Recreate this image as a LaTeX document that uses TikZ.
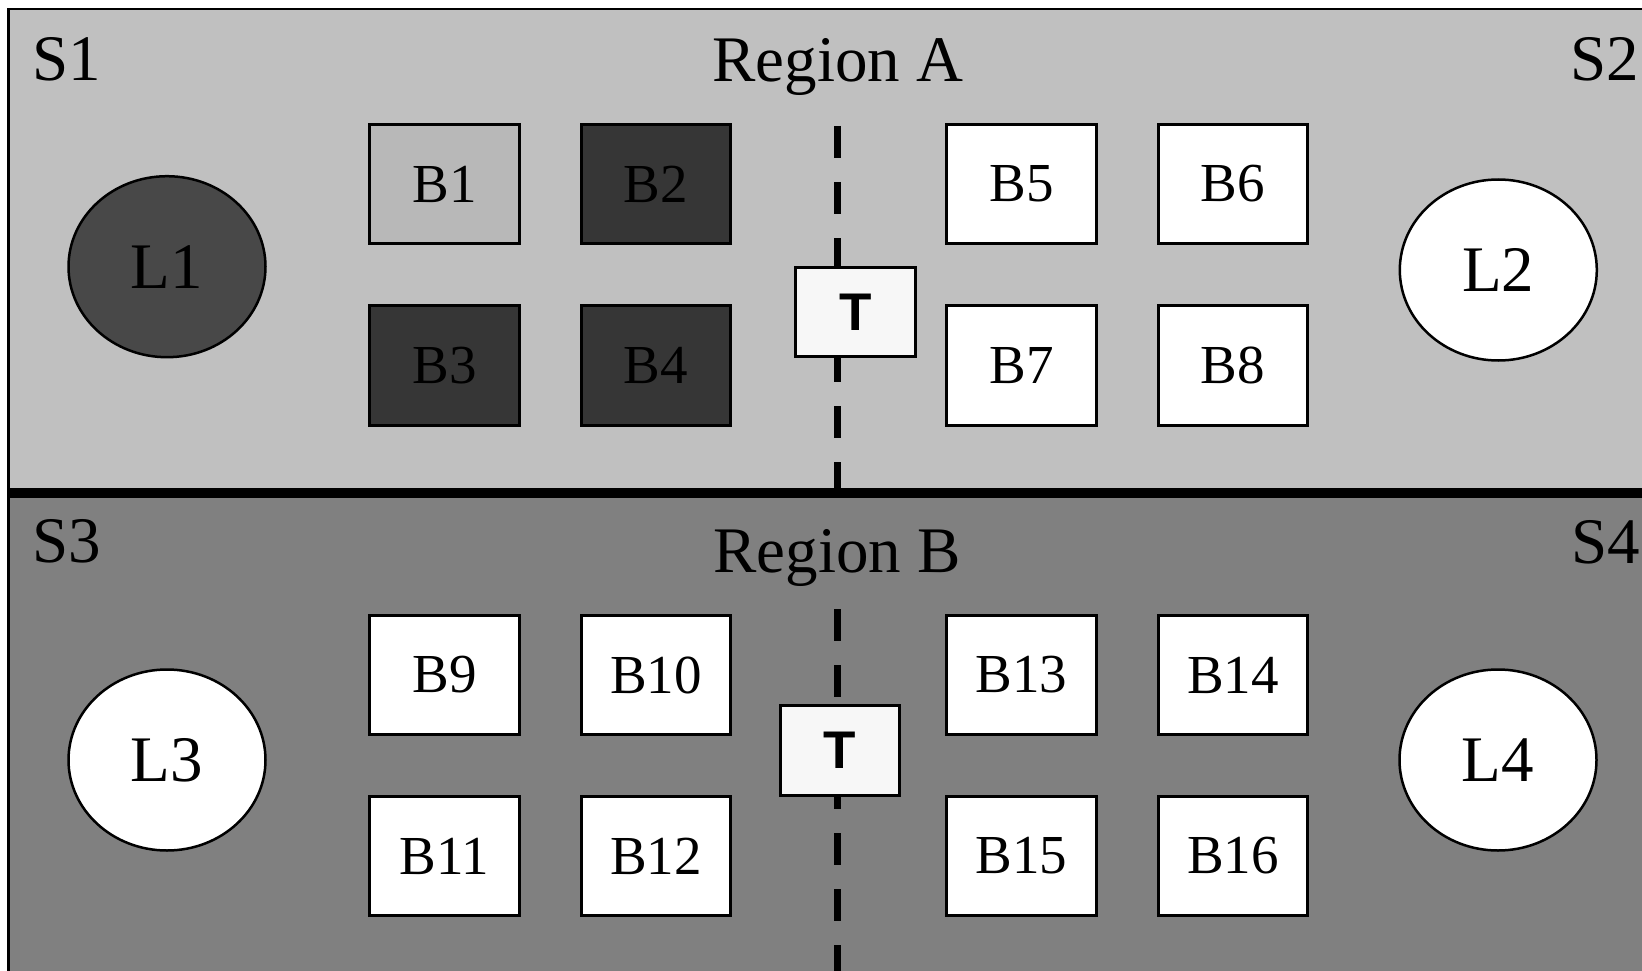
\documentclass[tikz,border=0pt]{standalone}
\usepackage{fontspec}
\setmainfont{Liberation Serif}
\newfontfamily\tsans{Liberation Sans}
\usetikzlibrary{shapes.geometric}
\definecolor{upbg}{RGB}{192,192,192}
\definecolor{lowbg}{RGB}{128,128,128}
\definecolor{darkbox}{RGB}{54,54,54}
\definecolor{darkell}{RGB}{72,72,72}
\definecolor{lightbox}{RGB}{184,184,184}
\definecolor{tfill}{RGB}{247,247,247}
\tikzset{
  bx/.style={draw=black, line width=2.7pt, minimum width=149.5pt, minimum height=119.5pt, inner sep=0pt, fill=white, font=\fontsize{55}{55}\selectfont},
  ell/.style={draw=black, ellipse, line width=2.5pt, minimum width=197pt, minimum height=181pt, inner sep=0pt, fill=white, font=\fontsize{65}{65}\selectfont},
  tbox/.style={draw=black, line width=2.7pt, minimum width=119.5pt, minimum height=89.5pt, inner sep=0pt, fill=tfill, font=\tsans\bfseries\fontsize{53}{53}\selectfont},
  lbl/.style={inner sep=0pt, font=\fontsize{65}{65}\selectfont},
  divider/.style={line width=7pt, dash pattern=on 32pt off 24pt},
  frame/.style={line width=2.7pt}
}
\begin{document}
\begin{tikzpicture}[x=1pt,y=-1pt]
\useasboundingbox (0,0) rectangle (1642,971);
% backgrounds
\fill[upbg] (8.7,9) rectangle (1660,493);
\fill[lowbg] (8.7,493) rectangle (1660,990);
\draw[frame] (1660,9) -- (8.7,9) -- (8.7,990);
\draw[line width=10pt] (8.7,493) -- (1660,493);
% labels
\node[lbl, anchor=base west] (s1) at (32,81) {S1};
\node[lbl, anchor=base east] (s2) at (1639,81) {S2};
\node[lbl, anchor=base west] (s3) at (32,562.7) {S3};
\node[lbl, anchor=base east] (s4) at (1640,563) {S4};
\node[lbl, anchor=base] (ra) at (838,81.7) {Region A};
\node[lbl, anchor=base] (rb) at (837,572.7) {Region B};
% dashed dividers
\coordinate (d1a) at (837.3,126);
\coordinate (d1b) at (837.3,493);
\coordinate (d2a) at (837.3,609);
\coordinate (d2b) at (837.3,980);
\draw[divider] (d1a) -- (d1b);
\draw[divider] (d2a) -- (d2b);
% upper region
\node[ell, fill=darkell] (L1) at (167,266.7) {L1};
\node[ell] (L2) at (1498.3,270) {L2};
\node[bx, fill=lightbox] (B1) at (444.5,184) {B1};
\node[bx, fill=darkbox] (B2) at (656,184) {B2};
\node[bx, fill=darkbox] (B3) at (444.5,365.5) {B3};
\node[bx, fill=darkbox] (B4) at (656,365.5) {B4};
\node[bx] (B5) at (1021.5,184) {B5};
\node[bx] (B6) at (1233,184) {B6};
\node[bx] (B7) at (1021.5,365.5) {B7};
\node[bx] (B8) at (1233,365.5) {B8};
\node[tbox] (T1) at (855.5,312) {T};
% lower region
\node[ell] (L3) at (167,760) {L3};
\node[ell] (L4) at (1498,760) {L4};
\node[bx] (B9) at (444.5,675) {B9};
\node[bx] (B10) at (656,675) {B10};
\node[bx] (B11) at (444.5,856) {B11};
\node[bx] (B12) at (656,856) {B12};
\node[bx] (B13) at (1021.5,675) {B13};
\node[bx] (B14) at (1233,675) {B14};
\node[bx] (B15) at (1021.5,856) {B15};
\node[bx] (B16) at (1233,856) {B16};
\node[tbox] (T2) at (840,750.5) {T};
\end{tikzpicture}
\end{document}
